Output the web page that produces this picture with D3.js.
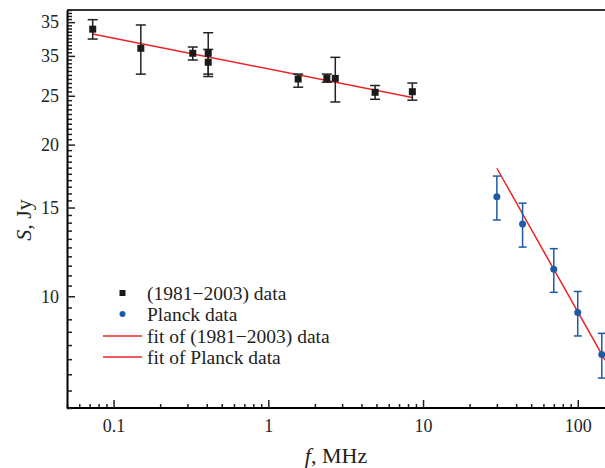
<!DOCTYPE html>
<html>
<head>
<meta charset="utf-8">
<script src="https://cdn.jsdelivr.net/npm/d3@7"></script>
<style>
  body { margin: 0; background: #fff; }
  svg text { font-family: "Liberation Serif", "Times New Roman", serif; fill: #222; }
</style>
</head>
<body>
<svg id="plotarea" width="605" height="468"></svg>
<script>
// (1981-2003) data
var oldFreq = [0.0733, 0.150, 0.325, 0.409, 0.409, 1.56, 2.39, 2.71, 4.90, 8.53];
var oldFlux = [33.9, 31.06, 30.36, 30.36, 29.14, 26.99, 27.07, 27.07, 25.4, 25.47];
var oldLow  = [32.4, 27.6, 29.44, 27.6, 27.3, 26.0, 26.6, 24.3, 24.6, 24.5];
var oldHigh = [35.4, 34.55, 31.24, 33.35, 30.9, 27.6, 27.6, 29.8, 26.2, 26.5];

// Planck data
var planckFreq = [30, 44, 70, 100, 143];
var planckFlux = [15.76, 13.91, 11.31, 9.28, 7.66];
var planckLow  = [14.17, 12.52, 10.18, 8.34, 6.88];
var planckHigh = [17.32, 15.3, 12.43, 10.22, 8.44];

// fits (straight lines in log-log)
var fitOldFreq = [0.0733, 8.53];
var fitOldFlux = [33.15, 24.8];
var fitPlanckFreq = [30, 150];
var fitPlanckFlux = [17.95, 7.47];

var xTicks = [0.1, 1, 10, 100];
var xTickLabels = ["0.1", "1", "10", "100"];
var yTicks = [10, 15, 20, 25, 30, 35];
var yTickLabels = ["10", "15", "20", "25", "35", "35"];

var legendLabels = ["(1981\u22122003) data", "Planck data", "fit of (1981\u22122003) data", "fit of Planck data"];

var margin = {left: 67, right: 605, top: 10, bottom: 408};

var svg = d3.select("#plotarea");

var x = d3.scaleLog().domain([0.05, 150]).range([margin.left, margin.right]);
var y = d3.scaleLog().domain([6, 37]).range([margin.bottom, margin.top]);

var xMinor = x.ticks().filter(function(d) { return xTicks.indexOf(d) < 0; });
var yMinor = d3.range(6, 37.01, 0.5).filter(function(d) { return yTicks.indexOf(d) < 0; });

// top border
svg.append("line")
    .attr("x1", margin.left).attr("x2", margin.right + 5)
    .attr("y1", margin.top).attr("y2", margin.top)
    .attr("stroke", "#333").attr("stroke-width", 2);

// x axis
svg.append("g")
    .attr("transform", "translate(0," + margin.bottom + ")")
    .call(d3.axisBottom(x).tickValues(xMinor).tickSize(-4).tickSizeOuter(0).tickFormat(""))
    .call(function(g) { g.select(".domain").remove(); });
var gx = svg.append("g")
    .attr("transform", "translate(0," + margin.bottom + ")")
    .call(d3.axisBottom(x).tickValues(xTicks).tickSize(-8).tickSizeOuter(0).tickPadding(11)
        .tickFormat(function(d, i) { return xTickLabels[i]; }));
gx.select(".domain").attr("stroke-width", 2).attr("d", "M" + margin.left + ",0H" + (margin.right + 5));
gx.selectAll("text").attr("font-size", 18).attr("fill", "#222");

// y axis
svg.append("g")
    .attr("transform", "translate(" + margin.left + ",0)")
    .call(d3.axisLeft(y).tickValues(yMinor).tickSize(-5).tickSizeOuter(0).tickFormat(""))
    .call(function(g) { g.select(".domain").remove(); });
var gy = svg.append("g")
    .attr("transform", "translate(" + margin.left + ",0)")
    .call(d3.axisLeft(y).tickValues(yTicks).tickSize(-8).tickSizeOuter(0).tickPadding(8)
        .tickFormat(function(d, i) { return yTickLabels[i]; }));
gy.select(".domain").attr("stroke-width", 2);
gy.selectAll("text").attr("font-size", 18).attr("fill", "#222");

svg.selectAll(".tick line").attr("stroke", "#222").attr("stroke-width", 1.5);

// axis titles
var xt = svg.append("text")
    .attr("x", (margin.left + margin.right) / 2).attr("y", 463)
    .attr("text-anchor", "middle").attr("font-size", 22);
xt.append("tspan").attr("font-style", "italic").text("f");
xt.append("tspan").text(", MHz");

var yt = svg.append("text")
    .attr("transform", "translate(31,220) rotate(-90)")
    .attr("text-anchor", "middle").attr("font-size", 22);
yt.append("tspan").attr("font-style", "italic").text("S");
yt.append("tspan").text(", Jy");

// fit lines
var line = d3.line()
    .x(function(d) { return x(d[0]); })
    .y(function(d) { return y(d[1]); });

svg.append("path")
    .attr("d", line(d3.zip(fitOldFreq, fitOldFlux)))
    .attr("fill", "none").attr("stroke", "#e8262a").attr("stroke-width", 1.5);
svg.append("path")
    .attr("d", line(d3.zip(fitPlanckFreq, fitPlanckFlux)))
    .attr("fill", "none").attr("stroke", "#e8262a").attr("stroke-width", 1.5);

// error bars
function errorBars(freq, lo, hi, color, cap) {
    var g = svg.append("g").attr("stroke", color).attr("stroke-width", 1.5);
    var rows = d3.range(freq.length);
    g.selectAll(".v").data(rows).enter().append("line")
        .attr("x1", function(i) { return x(freq[i]); })
        .attr("x2", function(i) { return x(freq[i]); })
        .attr("y1", function(i) { return y(lo[i]); })
        .attr("y2", function(i) { return y(hi[i]); });
    [lo, hi].forEach(function(arr) {
        g.selectAll(null).data(rows).enter().append("line")
            .attr("x1", function(i) { return x(freq[i]) - cap / 2; })
            .attr("x2", function(i) { return x(freq[i]) + cap / 2; })
            .attr("y1", function(i) { return y(arr[i]); })
            .attr("y2", function(i) { return y(arr[i]); });
    });
}

errorBars(oldFreq, oldLow, oldHigh, "#222", 10);
errorBars(planckFreq, planckLow, planckHigh, "#1f5aa6", 8);

svg.selectAll(".sq").data(d3.range(oldFreq.length)).enter().append("rect")
    .attr("class", "sq")
    .attr("x", function(i) { return x(oldFreq[i]) - 3.5; })
    .attr("y", function(i) { return y(oldFlux[i]) - 3.5; })
    .attr("width", 7).attr("height", 7)
    .attr("fill", "#1a1a1a");

svg.selectAll(".dot").data(d3.range(planckFreq.length)).enter().append("circle")
    .attr("class", "dot")
    .attr("cx", function(i) { return x(planckFreq[i]); })
    .attr("cy", function(i) { return y(planckFlux[i]); })
    .attr("r", 3.5)
    .attr("fill", "#1f5aa6");

// legend
var lg = svg.append("g");
var rowY = [293, 314, 336, 357];
lg.append("rect").attr("x", 119.5).attr("y", rowY[0] - 3).attr("width", 6).attr("height", 6).attr("fill", "#1a1a1a");
lg.append("circle").attr("cx", 122.5).attr("cy", rowY[1]).attr("r", 3).attr("fill", "#1f5aa6");
lg.append("line").attr("x1", 103).attr("x2", 142).attr("y1", rowY[2]).attr("y2", rowY[2])
    .attr("stroke", "#e8262a").attr("stroke-width", 1.5);
lg.append("line").attr("x1", 103).attr("x2", 142).attr("y1", rowY[3]).attr("y2", rowY[3])
    .attr("stroke", "#e8262a").attr("stroke-width", 1.5);
lg.selectAll("text").data(legendLabels).enter().append("text")
    .attr("x", 147)
    .attr("y", function(d, i) { return rowY[i]; })
    .attr("dy", "0.35em")
    .attr("font-size", 19.5)
    .text(function(d) { return d; });
</script>
</body>
</html>
